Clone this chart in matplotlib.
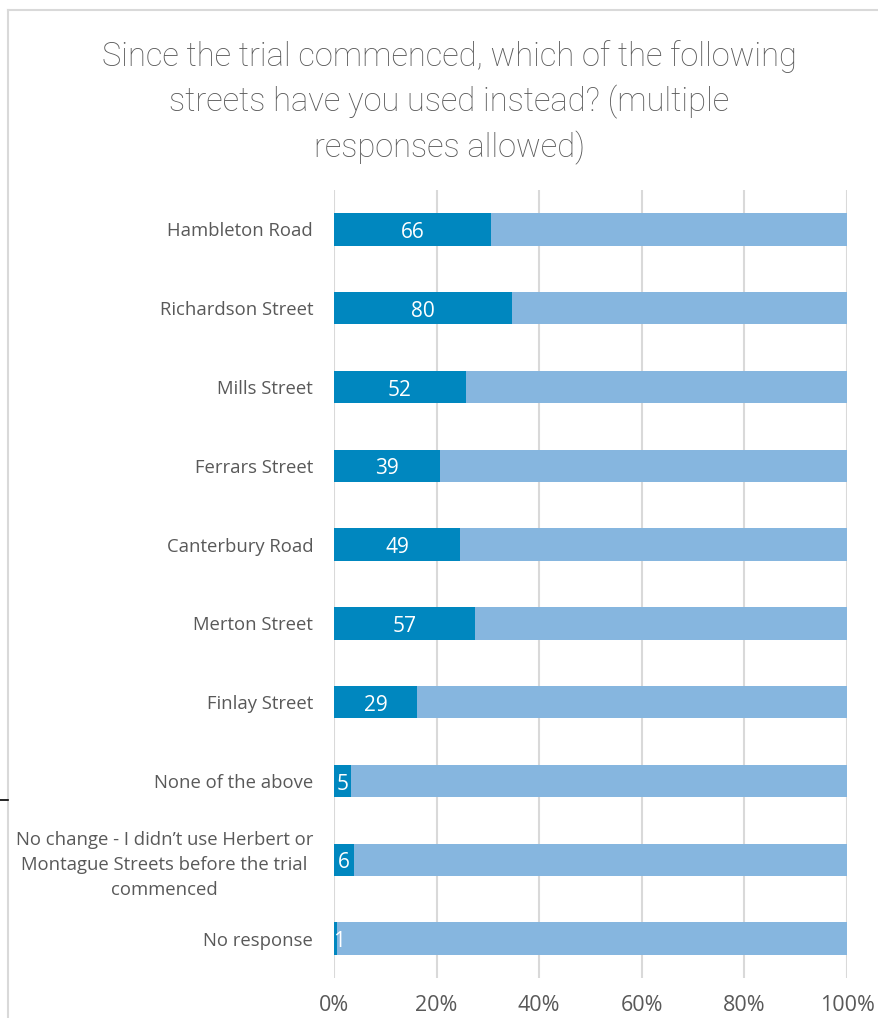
import matplotlib.pyplot as plt
from matplotlib.lines import Line2D

# data
categories = [
    "Hambleton Road",
    "Richardson Street",
    "Mills Street",
    "Ferrars Street",
    "Canterbury Road",
    "Merton Street",
    "Finlay Street",
    "None of the above",
    "No change - I didn\u2019t use Herbert or\nMontague Streets before the trial\ncommenced",
    "No response",
]
used_counts = [66, 80, 52, 39, 49, 57, 29, 5, 6, 1]
remainder = [150] * len(categories)
tick_labels = ["0%", "20%", "40%", "60%", "80%", "100%"]

dark_blue = "#0087BF"
light_blue = "#86B6DF"
text_grey = "#595959"

fig = plt.figure(figsize=(8.79, 10.18), dpi=100)
ax = fig.add_axes([0.380, 0.0393, 0.5836, 0.7741])

totals = [a + b for a, b in zip(used_counts, remainder)]
share_used = [a / t for a, t in zip(used_counts, totals)]
share_rest = [b / t for b, t in zip(remainder, totals)]
ypos = list(range(len(categories)))

ax.barh(ypos, share_used, height=0.41, color=dark_blue, zorder=3)
ax.barh(ypos, share_rest, left=share_used, height=0.41, color=light_blue, zorder=3)

for y, s, c in zip(ypos, share_used, used_counts):
    ax.text(max(s / 2, 0.009), y + 0.04, str(c), ha="center", va="center",
            color="white", fontsize=15, family="Open Sans", zorder=4)

ax.set_ylim(len(categories) - 0.5, -0.5)
ax.set_xlim(0, 1)
ax.set_yticks(ypos)
ax.set_yticklabels(categories, fontsize=13.3, color=text_grey,
                   family="Open Sans", ha="right", multialignment="center",
                   linespacing=1.5)
ax.tick_params(axis="y", length=0, pad=15)
ax.set_xticks([0, 0.2, 0.4, 0.6, 0.8, 1.0])
ax.set_xticklabels(tick_labels, fontsize=15.5, color=text_grey, family="Open Sans")
ax.tick_params(axis="x", length=0, pad=12)
ax.xaxis.grid(True, color="#D9D9D9", linewidth=1.5, zorder=0)
for side in ax.spines.values():
    side.set_visible(False)

fig.text(0.511, 0.899, "Since the trial commenced, which of the following\n"
         "streets have you used instead? (multiple\nresponses allowed)",
         ha="center", va="center", fontsize=23.5, color=text_grey,
         family="Roboto", fontweight="light", linespacing=1.45)

# chart frame lines
fig.add_artist(Line2D([8 / 879, 1], [1 - 10 / 1018] * 2,
                      transform=fig.transFigure, color="#D9D9D9", lw=1.5))
fig.add_artist(Line2D([8 / 879] * 2, [0, 1 - 10 / 1018],
                      transform=fig.transFigure, color="#D9D9D9", lw=1.5))
fig.add_artist(Line2D([0, 8 / 879], [1 - 800 / 1018] * 2,
                      transform=fig.transFigure, color="black", lw=1.2))

fig.savefig("out.png", dpi=100)
